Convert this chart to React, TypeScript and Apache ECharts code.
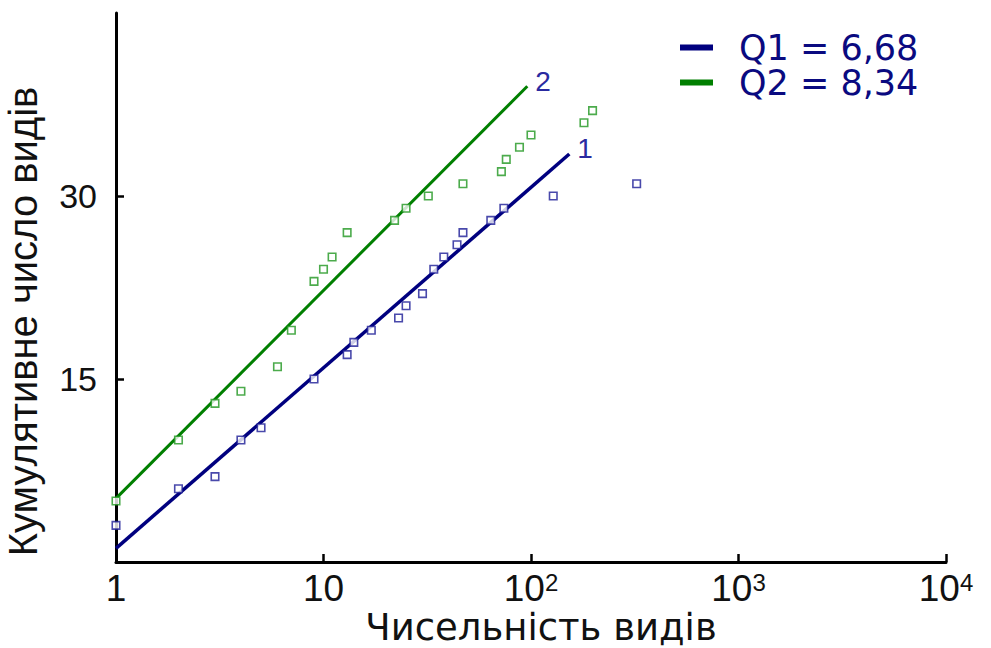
import React, { useEffect, useRef } from "react";
import * as echarts from "echarts";

const blueX = [1, 2, 3, 4, 5, 9, 13, 14, 17, 23, 25, 30, 34, 38, 44, 47, 64, 74, 128, 323];
const blueY = [3, 6, 7, 10, 11, 15, 17, 18, 19, 20, 21, 22, 24, 25, 26, 27, 28, 29, 30, 31];
const greenX = [1, 2, 3, 4, 6, 7, 9, 10, 11, 13, 22, 25, 32, 47, 72, 76, 88, 100, 180, 198];
const greenY = [5, 10, 13, 14, 16, 19, 23, 24, 25, 27, 28, 29, 30, 31, 32, 33, 34, 35, 36, 37];
const fit1X = [1, 153];
const fit1Y = [1.12, 33.44];
const fit2X = [1, 96];
const fit2Y = [5.22, 39.0];
const legendNames = ["Q1 = 6,68", "Q2 = 8,34"];
const lineLabels = ["1", "2"];
const yTicks = [15, 30];
const xTitle = "Чисельність видів";
const yTitle = "Кумулятивне число видів";

const FONT = "'Liberation Sans', Arial, sans-serif";
const WIDE = "'DejaVu Sans', 'Liberation Sans', sans-serif";
const NAVY = "#00007f";
const GREEN = "#007f00";

const zip = (xs: number[], ys: number[]) => xs.map((x, i) => [x, ys[i]]);

export default function App() {
  const ref = useRef<HTMLDivElement>(null);
  useEffect(() => {
    if (!ref.current) return;
    const chart = echarts.init(ref.current, null, { renderer: "svg" });
    const supMap: Record<number, string> = { 2: "2", 3: "3", 4: "4" };
    chart.setOption({
      animation: false,
      backgroundColor: "#ffffff",
      grid: { left: 116, right: 45, top: 13, bottom: 86, containLabel: false, outerBoundsMode: "none" },
      legend: {
        orient: "vertical",
        left: 675,
        top: 25,
        itemWidth: 33,
        itemHeight: 6,
        itemGap: 0,
        icon: "rect",
        selectedMode: false,
        data: [
          { name: legendNames[0], itemStyle: { color: NAVY } },
          { name: legendNames[1], itemStyle: { color: GREEN } },
        ],
        textStyle: {
          fontFamily: WIDE,
          fontSize: 35,
          color: "#0a0a80",
          padding: [0, 0, 0, 21],
        },
      },
      xAxis: {
        type: "log",
        logBase: 10,
        min: 1,
        max: 10000,
        name: xTitle,
        nameLocation: "middle",
        nameGap: 47,
        nameMoveOverlap: false,
        nameTextStyle: {
          fontFamily: WIDE,
          fontSize: 37,
          color: "#111",
          padding: [0, 0, 0, 20],
        },
        axisLine: { lineStyle: { color: "#000", width: 3 } },
        axisTick: { inside: true, length: 8, lineStyle: { color: "#000", width: 2.5 } },
        splitLine: { show: false },
        minorTick: { show: false },
        axisLabel: {
          margin: 8,
          color: "#111",
          fontFamily: FONT,
          formatter: (v: number) => {
            const e = Math.round(Math.log10(v));
            if (e === 0) return "{b|1}";
            if (e === 1) return "{b|10}";
            return "{b|10}{s|" + supMap[e] + "}";
          },
          rich: {
            b: { fontFamily: FONT, fontSize: 37, color: "#111", lineHeight: 37, verticalAlign: "bottom" },
            s: { fontFamily: FONT, fontSize: 24, color: "#111", lineHeight: 37, verticalAlign: "top" },
          },
        },
      },
      yAxis: {
        type: "value",
        min: 0,
        max: 45,
        interval: 15,
        name: yTitle,
        nameLocation: "middle",
        nameGap: 73,
        nameMoveOverlap: false,
        nameTextStyle: {
          fontFamily: FONT,
          fontSize: 40,
          color: "#111",
          padding: [0, 68, 0, 0],
        },
        axisLine: { show: true, lineStyle: { color: "#000", width: 3 } },
        axisTick: {
          show: true,
          inside: true,
          length: 8,
          customValues: yTicks,
          lineStyle: { color: "#000", width: 2.5 },
        },
        splitLine: { show: false },
        axisLabel: {
          customValues: yTicks,
          margin: 19,
          fontFamily: FONT,
          fontSize: 34,
          color: "#111",
        },
      },
      series: [
        {
          name: legendNames[0],
          type: "line",
          data: zip(fit1X, fit1Y),
          symbol: "none",
          lineStyle: { color: NAVY, width: 3.5 },
          itemStyle: { color: NAVY },
          endLabel: {
            show: true,
            formatter: lineLabels[0],
            fontFamily: FONT,
            fontSize: 28,
            color: "#2a2aa0",
            distance: 8,
            offset: [0, -6],
          },
          z: 3,
        },
        {
          name: legendNames[1],
          type: "line",
          data: zip(fit2X, fit2Y),
          symbol: "none",
          lineStyle: { color: GREEN, width: 3 },
          itemStyle: { color: GREEN },
          endLabel: {
            show: true,
            formatter: lineLabels[1],
            fontFamily: FONT,
            fontSize: 28,
            color: "#2a2aa0",
            distance: 8,
            offset: [0, -5],
          },
          z: 3,
        },
        {
          name: "pts1",
          type: "scatter",
          data: zip(blueX, blueY),
          symbol: "rect",
          symbolSize: 7.5,
          itemStyle: { color: "#ffffff", borderColor: "#1c1c96", borderWidth: 1.6 },
          z: 4,
        },
        {
          name: "pts2",
          type: "scatter",
          data: zip(greenX, greenY),
          symbol: "rect",
          symbolSize: 7.5,
          itemStyle: { color: "#ffffff", borderColor: "#1f961f", borderWidth: 1.6 },
          z: 4,
        },
      ],
    });
    return () => chart.dispose();
  }, []);
  return (
    <div
      ref={ref}
      style={{ position: "fixed", left: 0, top: 0, width: 991, height: 648, background: "#fff" }}
    />
  );
}
